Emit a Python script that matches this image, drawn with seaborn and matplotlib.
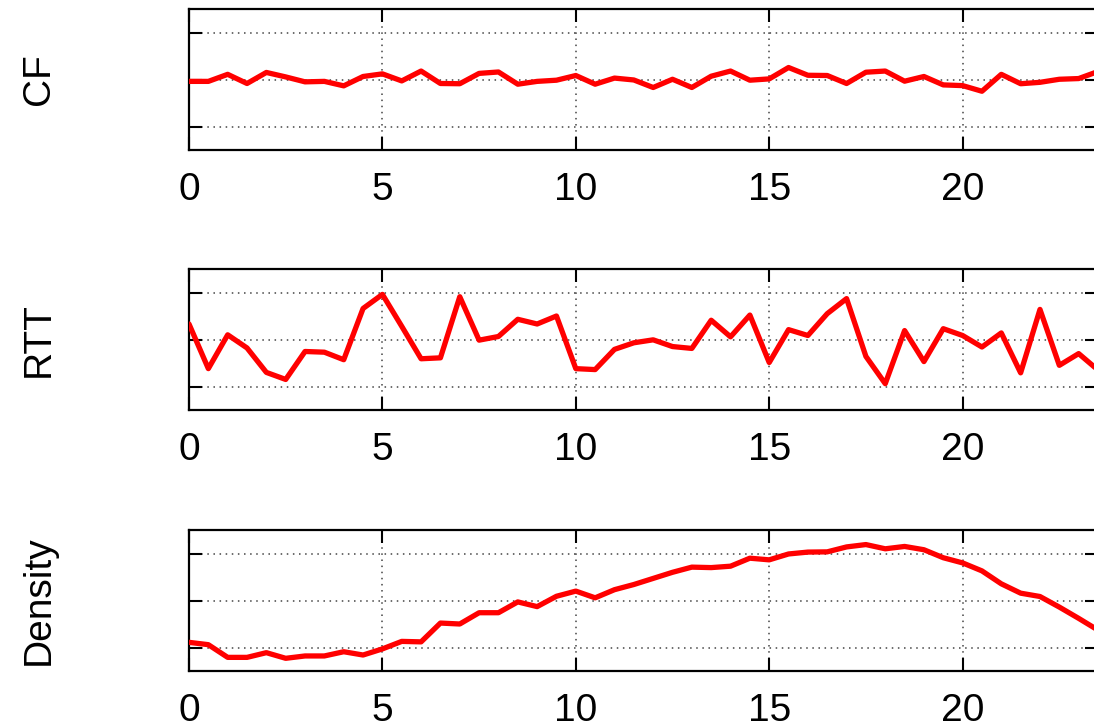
import numpy as np
import pandas as pd
import matplotlib
matplotlib.use("Agg")
import matplotlib.pyplot as plt
import seaborn as sns

# ---- data ----
x_vals = [i * 0.5 for i in range(48)]  # 0 .. 23.5 step 0.5

cf_vals = [-0.04, -0.04, 0.11, -0.085, 0.15, 0.055, -0.05, -0.04, -0.135, 0.064,
           0.12, -0.03, 0.18, -0.085, -0.09, 0.13, 0.16, -0.10, -0.04, -0.015,
           0.085, -0.10, 0.03, -0.01, -0.17, 0.005, -0.17, 0.07, 0.18, -0.015,
           0.013, 0.255, 0.09, 0.085, -0.085, 0.155, 0.18, -0.036, 0.064, -0.115,
           -0.13, -0.25, 0.11, -0.09, -0.06, 0.005, 0.02, 0.17]

rtt_vals = [0.33, -0.62, 0.10, -0.18, -0.70, -0.85, -0.255, -0.27, -0.43, 0.66,
            0.96, 0.28, -0.41, -0.39, 0.91, -0.014, 0.064, 0.43, 0.33, 0.50,
            -0.62, -0.64, -0.21, -0.07, -0.007, -0.15, -0.19, 0.41, 0.057, 0.52,
            -0.49, 0.21, 0.085, 0.55, 0.87, -0.36, -0.94, 0.19, -0.47, 0.23,
            0.085, -0.16, 0.14, -0.71, 0.64, -0.55, -0.30, -0.65]

density_vals = [-0.89, -0.94, -1.21, -1.21, -1.11, -1.23, -1.18, -1.18, -1.09, -1.16,
                -1.03, -0.87, -0.88, -0.48, -0.50, -0.26, -0.26, -0.03, -0.13, 0.09,
                0.20, 0.057, 0.23, 0.34, 0.47, 0.60, 0.71, 0.70, 0.73, 0.90,
                0.865, 0.99, 1.03, 1.035, 1.14, 1.19, 1.10, 1.15, 1.08, 0.91,
                0.80, 0.63, 0.355, 0.156, 0.085, -0.14, -0.38, -0.63]

panel_labels = ["CF", "RTT", "Density"]
x_ticks = [0, 5, 10, 15, 20]
y_ticks = [-1, 0, 1]

# ---- style ----
sns.set_theme(style="ticks")
plt.rcParams["font.family"] = ["Liberation Sans", "DejaVu Sans"]

W, H = 1094, 725
fig = plt.figure(figsize=(W / 100, H / 100), dpi=100)

# panel boxes in pixel coordinates (top, bottom)
boxes = [(9, 150), (269, 410), (530, 671)]
left_px, right_px = 189, 1098

series = [cf_vals, rtt_vals, density_vals]

for (top, bot), vals, lab in zip(boxes, series, panel_labels):
    ax = fig.add_axes([left_px / W, 1 - bot / H, (right_px - left_px) / W, (bot - top) / H])
    df = pd.DataFrame({"x": x_vals, "y": vals})
    sns.lineplot(data=df, x="x", y="y", ax=ax, color="#ff0000", linewidth=3.8, zorder=3)
    ax.set_xlim(0, 23.5)
    ax.set_ylim(-1.5, 1.5)
    ax.set_xticks(x_ticks)
    ax.set_yticks(y_ticks)
    ax.set_yticklabels([])
    ax.set_xlabel("")
    ax.set_ylabel("")
    ax.grid(True, color="#444444", linestyle=(0, (1, 3)), linewidth=1.1, zorder=0)
    ax.tick_params(axis="both", direction="in", length=9.5, width=1.5, color="black",
                   top=True, right=True, labelsize=28, pad=16, labelcolor="black")
    for sp in ax.spines.values():
        sp.set_linewidth(1.6)
        sp.set_color("black")
        sp.set_visible(True)
    fig.text(49 / W, 1 - ((top + bot) / 2) / H, lab, rotation=90, rotation_mode="anchor",
             ha="center", va="baseline", fontsize=28, color="black")

fig.savefig("out.png", dpi=100)
